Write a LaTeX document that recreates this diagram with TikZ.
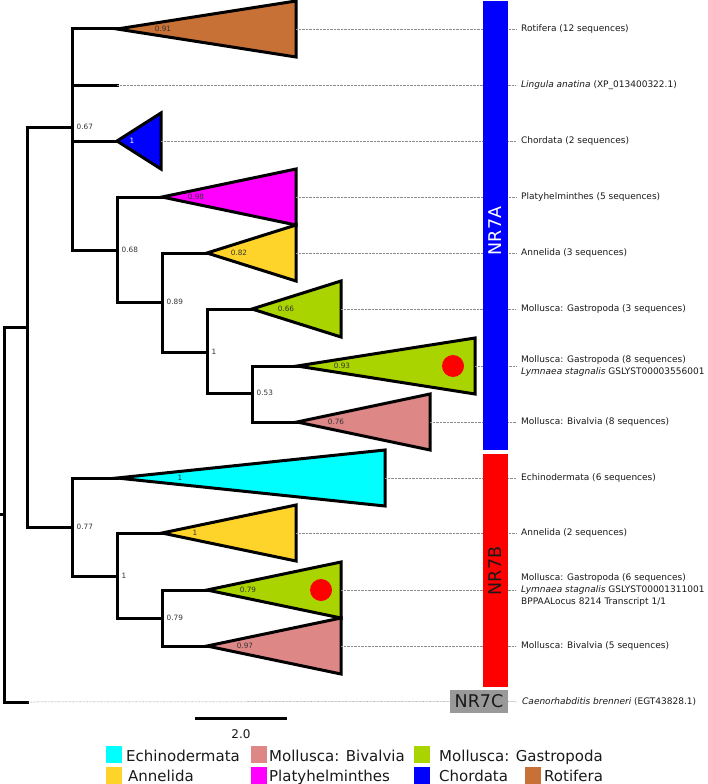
\documentclass[tikz,border=0pt]{standalone}
\usepackage{fontspec}
\setmainfont{DejaVu Sans}
\usepackage{tikz}
\usetikzlibrary{positioning}
\usepackage{xcolor}
\definecolor{rotifera}{HTML}{C87137}
\definecolor{chordata}{HTML}{0000FF}
\definecolor{platy}{HTML}{FF00FF}
\definecolor{annelida}{HTML}{FFD42A}
\definecolor{gastro}{HTML}{AAD400}
\definecolor{bivalvia}{HTML}{DE8787}
\definecolor{echino}{HTML}{00FFFF}
\definecolor{grupogris}{HTML}{999999}
\definecolor{textogris}{HTML}{333333}

\begin{document}
\begin{tikzpicture}[x=1pt,y=-1pt,
  rama/.style={line width=3pt,line join=miter,line cap=rect},
  clado/.style={draw,line width=3pt,line join=miter},
  guia/.style={draw=black!45,line width=0.5pt,dash pattern=on 0.7pt off 0.7pt},
  apoyo/.style={font=\fontsize{7.3}{8}\selectfont,text=textogris,inner sep=0pt},
  etiq/.style={font=\fontsize{9}{11.8}\selectfont,anchor=west,align=left,inner sep=0pt,text=black!90},
  grupo/.style={font=\fontsize{17.5}{18}\selectfont,rotate=90,inner sep=0pt},
  leyenda/.style={font=\fontsize{15}{16}\selectfont,anchor=base west,inner sep=0pt,text=black!90},
  muestra/.style={minimum width=16pt,minimum height=17pt,inner sep=0pt}]
  \useasboundingbox (0,0) rectangle (708,784);

  % nodos internos del arbol
  \coordinate (raiz) at (0,514);
  \coordinate (r) at (4,514);
  \coordinate (nA) at (27,327);
  \coordinate (nB) at (72,127);
  \coordinate (nC) at (117,250);
  \coordinate (nD) at (162,302);
  \coordinate (nE) at (207,352);
  \coordinate (nF) at (252,393);
  \coordinate (nG) at (72,527);
  \coordinate (nH) at (117,576);
  \coordinate (nI) at (162,618);
  \coordinate (tLin) at (117,85);
  \coordinate (tCae) at (27,702);

  % vertices y bases de los clados
  \foreach \n/\x/\y/\l in {Rot/117/29/179, Cho/117/141/44, Pla/162/197/134,
    AnA/207/253/89, GaA/252/309/89, GaB/297/366/178, BiA/297/422/133,
    Ech/117/478/268, AnB/162/533/134, GaC/207/590/134, BiB/207/646/134}
  {
    \coordinate (a\n) at (\x,\y);
    \coordinate (b\n) at (\x+\l,\y);
  }

  % ramas
  \draw[rama] (raiz) -- (r);
  \draw[rama] (r) |- (nA);
  \draw[rama] (r) |- (tCae);
  \draw[rama] (nA) |- (nB);
  \draw[rama] (nA) |- (nG);
  \draw[rama] (nB) |- (aRot);
  \draw[rama] (nB) |- (tLin);
  \draw[rama] (nB) |- (aCho);
  \draw[rama] (nB) |- (nC);
  \draw[rama] (nC) |- (aPla);
  \draw[rama] (nC) |- (nD);
  \draw[rama] (nD) |- (aAnA);
  \draw[rama] (nD) |- (nE);
  \draw[rama] (nE) |- (aGaA);
  \draw[rama] (nE) |- (nF);
  \draw[rama] (nF) |- (aGaB);
  \draw[rama] (nF) |- (aBiA);
  \draw[rama] (nG) |- (aEch);
  \draw[rama] (nG) |- (nH);
  \draw[rama] (nH) |- (aAnB);
  \draw[rama] (nH) |- (nI);
  \draw[rama] (nI) |- (aGaC);
  \draw[rama] (nI) |- (aBiB);

  % triangulos y valores de soporte
  \foreach \n/\l/\c/\s/\d/\t in {
    Rot/179/rotifera/0.91/46/textogris,
    Cho/44/chordata/1/15/white,
    Pla/134/platy/0.98/34/textogris,
    AnA/89/annelida/0.82/32/textogris,
    GaA/89/gastro/0.66/34/textogris,
    GaB/178/gastro/0.93/45/textogris,
    BiA/133/bivalvia/0.76/39/textogris,
    Ech/268/echino/1/63/textogris,
    AnB/134/annelida/1/33/textogris,
    GaC/134/gastro/0.79/41/textogris,
    BiB/134/bivalvia/0.97/38/textogris}
  {
    \draw[clado,fill=\c] (a\n) -- ++(\l,-28) -- ++(0,56) -- cycle;
    \node[apoyo,text=\t] at ([xshift=\d pt]a\n) {\s};
  }
  \foreach \n/\v in {nB/0.67,nC/0.68,nD/0.89,nE/1,nF/0.53,nG/0.77,nH/1,nI/0.79}
    \node[apoyo,anchor=west] at ([xshift=4.5pt]\n) {\v};

  % secuencias de Lymnaea
  \fill[red] (453,366) circle (11pt);
  \fill[red] (321,590) circle (11pt);

  % etiquetas
  \node[etiq] (lRot) at (521,29) {Rotifera (12 sequences)};
  \node[etiq] (lLin) at (521,85) {\textit{Lingula anatina} (XP\_013400322.1)};
  \node[etiq] (lCho) at (521,141) {Chordata (2 sequences)};
  \node[etiq] (lPla) at (521,197) {Platyhelminthes (5 sequences)};
  \node[etiq] (lAnA) at (521,253) {Annelida (3 sequences)};
  \node[etiq] (lGaA) at (521,309) {Mollusca: Gastropoda (3 sequences)};
  \node[etiq] (lGaB) at (521,366) {Mollusca: Gastropoda (8 sequences)\\\textit{Lymnaea stagnalis} GSLYST00003556001};
  \node[etiq] (lBiA) at (521,422) {Mollusca: Bivalvia (8 sequences)};
  \node[etiq] (lEch) at (521,478) {Echinodermata (6 sequences)};
  \node[etiq] (lAnB) at (521,533) {Annelida (2 sequences)};
  \node[etiq] (lGaC) at (521,590) {Mollusca: Gastropoda (6 sequences)\\\textit{Lymnaea stagnalis} GSLYST00001311001\\BPPAALocus 8214 Transcript 1/1};
  \node[etiq] (lBiB) at (521,646) {Mollusca: Bivalvia (5 sequences)};
  \node[etiq] (lCae) at (522,702) {\textit{Caenorhabditis brenneri} (EGT43828.1)};

  % lineas guia
  \draw[guia,shorten >=5pt] (tLin) -- (lLin.west);
  \foreach \n in {Rot,Cho,Pla,AnA,GaA,GaB,BiA,Ech,AnB,GaC,BiB}
    \draw[guia,shorten >=5pt] (b\n) -- (l\n.west);

  % subfamilias
  \fill[chordata] (483,1) rectangle (508,450);
  \node[grupo,text=white] (NRA) at (495.5,231) {NR7A};
  \fill[red] (483,454) rectangle (508,687);
  \node[grupo,text=black!90] (NRB) at (495.5,571) {NR7B};
  \node[fill=grupogris,minimum width=58pt,minimum height=23pt,inner sep=0pt,
        font=\fontsize{17.5}{18}\selectfont,text=black!90] (NRC) at (479,701.5) {NR7C};
  \draw[guia] (tCae) -- (NRC.west);
  \draw[guia,shorten >=5pt] (NRC.east) -- (lCae.west);

  % escala
  \coordinate (escI) at (195,718);
  \coordinate (escD) at (287,718);
  \draw[line width=3pt] (escI) -- (escD);
  \node[font=\fontsize{12}{13}\selectfont,text=black!90] (escT) at (241,734) {2.0};

  % leyenda
  \node[muestra,fill=echino] (mEch) at (113.5,754.5) {};
  \node[leyenda] (tEch) at (126,761) {Echinodermata};
  \node[muestra,fill=bivalvia] (mBiv) at (259,754.5) {};
  \node[leyenda] (tBiv) at (269,761) {Mollusca: Bivalvia};
  \node[muestra,fill=gastro] (mGas) at (422,754.5) {};
  \node[leyenda] (tGas) at (439,761) {Mollusca: Gastropoda};
  \node[muestra,fill=annelida] (mAnn) at (113.5,775.5) {};
  \node[leyenda] (tAnn) at (128,781) {Annelida};
  \node[muestra,fill=platy] (mPla) at (259,775.5) {};
  \node[leyenda] (tPla) at (269,781) {Platyhelminthes};
  \node[muestra,fill=chordata] (mCho) at (422,775.5) {};
  \node[leyenda] (tCho) at (439,781) {Chordata};
  \node[muestra,fill=rotifera] (mRot) at (533,775.5) {};
  \node[leyenda] (tRot) at (544,781) {Rotifera};
\end{tikzpicture}
\end{document}
